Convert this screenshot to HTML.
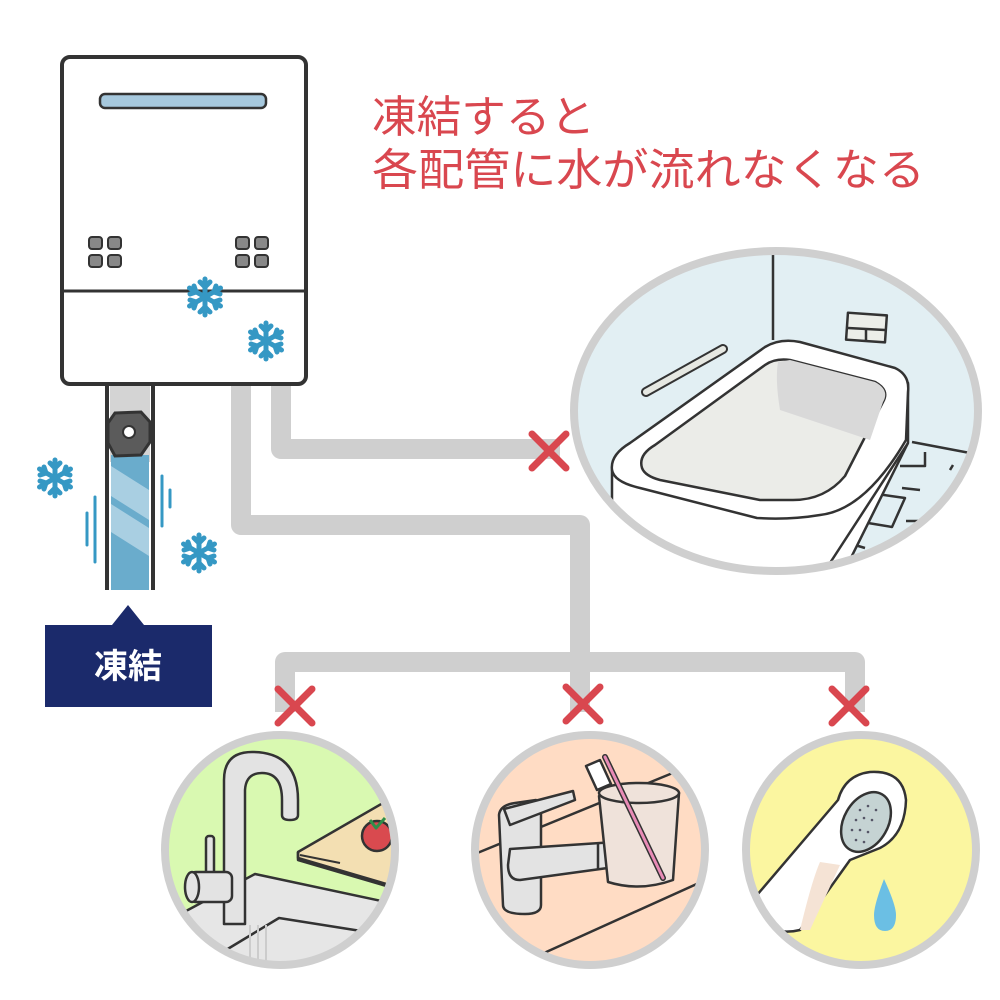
<!DOCTYPE html>
<html><head><meta charset="utf-8"><style>
html,body{margin:0;padding:0;background:#fff;}
svg{display:block;}
text{font-family:"Liberation Sans","Noto Sans CJK JP",sans-serif;}
</style></head><body>
<svg width="1000" height="1000" viewBox="0 0 1000 1000" xmlns="http://www.w3.org/2000/svg">
<defs>
<g id="snow" stroke="#3598c4" stroke-width="5" stroke-linecap="round" fill="none">
<line x1="0" y1="-18" x2="0" y2="18"/><line x1="-15.5" y1="-9" x2="15.5" y2="9"/><line x1="-15.5" y1="9" x2="15.5" y2="-9"/>
<path d="M-5 -15 L0 -10 L5 -15 M-5 15 L0 10 L5 15 M-15 -3 L-9 -5 L-11 -11 M15 3 L9 5 L11 11 M-15 3 L-9 5 L-11 11 M15 -3 L9 -5 L11 -11"/>
</g>
<g id="x" stroke="#d9474f" stroke-width="7" stroke-linecap="round"><line x1="-17" y1="-17" x2="17" y2="17"/><line x1="-17" y1="17" x2="17" y2="-17"/></g>
<clipPath id="c1"><ellipse cx="776" cy="411" rx="202" ry="160"/></clipPath>
<clipPath id="c2"><circle cx="280" cy="850" r="115"/></clipPath>
<clipPath id="c3"><circle cx="590" cy="850" r="115"/></clipPath>
<clipPath id="c4"><circle cx="861" cy="850" r="115"/></clipPath>
</defs>

<!-- gray pipes -->
<g stroke="#cfcfcf" stroke-width="20" fill="none" stroke-linejoin="round">
<path d="M281 385 V449 H560"/>
<path d="M241 385 V525 H580 V662"/>
<path d="M285 712 V662 H855 V712"/>
<path d="M580 662 V712"/>
</g>

<!-- bath ellipse -->
<ellipse cx="776" cy="411" rx="202" ry="160" fill="#e2eff3"/>
<g clip-path="url(#c1)" fill="none" stroke="#333" stroke-width="2.5" stroke-linejoin="round">
<line x1="773" y1="250" x2="773" y2="340"/>
<rect x="847" y="314" width="39" height="27" fill="#eceee9" transform="rotate(4 866 327)"/>
<line x1="848" y1="328" x2="885" y2="330"/><line x1="866" y1="328" x2="866" y2="342"/>
<line x1="646" y1="392" x2="723" y2="349" stroke="#333" stroke-width="10" stroke-linecap="round"/>
<line x1="646" y1="392" x2="723" y2="349" stroke="#e6e8e2" stroke-width="6" stroke-linecap="round"/>
<line x1="912" y1="442" x2="970" y2="453"/>
<path d="M900 466 L925 466 L925 452 M902 488 L920 490 M950 470 L953 465 M906 521 L920 521 M855 545 L865 548" />
<path d="M870 493 L905 498 L892 527 L862 522 Z" fill="none"/>
<path d="M612 470 L612 600 L830 600 L908 443 L908 383 Z" fill="#fff"/>
<path d="M612 470 Q610 455 630 443 L765 347 Q780 338 800 342 L895 368 Q910 375 908 392 L906 440 Q865 510 820 515 Q790 520 757 518 L640 488 Q614 482 612 470 Z" fill="#fff"/>
<path d="M908 443 L830 563"/>
<path d="M642 468 Q638 455 655 445 L765 365 Q775 358 790 360 L875 382 Q890 390 883 402 L845 476 Q825 500 793 500 L760 500 L660 480 Q645 476 642 468 Z" fill="#ebece8"/>
<path d="M778 362 Q775 380 780 410 L870 440 L883 402 Q890 390 875 382 L790 360 Z" fill="#d9d9d9" stroke="none"/>
</g>
<ellipse cx="776" cy="411" rx="202" ry="160" fill="none" stroke="#cfcfcf" stroke-width="8"/>

<!-- circle 1 kitchen -->
<circle cx="280" cy="850" r="115" fill="#d9f9b1"/>
<g clip-path="url(#c2)" stroke="#333" stroke-width="2.5" stroke-linejoin="round">
<path d="M160 925 L255 874 L400 905 L400 980 L160 980 Z" fill="#e6e6e6"/>
<path d="M226 950 L279 918 L361 931" fill="none"/>
<path d="M250 925 V980 M258 925 V980 M266 925 V980" stroke="#ccc" stroke-width="2"/>
<path d="M298 852 L383 803 L400 810 L400 888 L298 858 Z" fill="#f3dfb2"/>
<path d="M298 852 L298 860 L400 890" fill="none"/>
<line x1="300" y1="855" x2="340" y2="863" stroke-width="2"/>
<circle cx="377" cy="836" r="15" fill="#d94a4f"/>
<path d="M370 820 L376 828 L385 818" stroke="#2e8f4a" stroke-width="3" fill="none"/>
<path d="M224 924 V780 Q224 752 252 752 Q298 752 298 800 V815 Q298 820 290 820 Q282 820 282 815 V800 Q282 773 262 773 Q246 773 245 790 V924 Z" fill="#e3e3e3"/>
<rect x="206" y="836" width="8" height="38" rx="3" fill="#e3e3e3"/>
<rect x="190" y="872" width="42" height="30" rx="6" fill="#e3e3e3"/>
<ellipse cx="192" cy="887" rx="7" ry="15" fill="#e3e3e3"/>
</g>
<circle cx="280" cy="850" r="115" fill="none" stroke="#cfcfcf" stroke-width="8"/>

<!-- circle 2 washstand -->
<circle cx="590" cy="850" r="115" fill="#ffdcc4"/>
<g clip-path="url(#c3)" stroke="#333" stroke-width="2.5" stroke-linejoin="round">
<line x1="470" y1="856" x2="680" y2="770"/>
<line x1="544" y1="953" x2="710" y2="878"/>
<path d="M499 815 Q500 805 515 803 L536 800 Q541 805 541 815 V905 Q541 914 525 914 Q503 914 503 905 Z" fill="#e3e3e3"/>
<path d="M504 809 L573 791 L575 800 L510 825 Z" fill="#e3e3e3"/>
<path d="M510 849 L615 842 L615 867 L520 880 Q508 880 508 865 Z" fill="#e3e3e3"/>
<line x1="598" y1="843" x2="598" y2="870"/>
<path d="M599 796 Q640 782 679 793 L673 880 Q640 892 608 882 Z" fill="#efe2da"/>
<ellipse cx="639" cy="793" rx="40" ry="10" fill="#efe2da"/>
<line x1="605" y1="757" x2="663" y2="878" stroke="#333" stroke-width="6" stroke-linecap="round"/>
<line x1="605" y1="757" x2="663" y2="878" stroke="#e88bb6" stroke-width="3" stroke-linecap="round"/>
<path d="M586 766 L600 760 L611 784 L597 790 Z" fill="#fff"/>
</g>
<circle cx="590" cy="850" r="115" fill="none" stroke="#cfcfcf" stroke-width="8"/>

<!-- circle 3 shower -->
<circle cx="861" cy="850" r="115" fill="#fbf6a0"/>
<g clip-path="url(#c4)" stroke="#333" stroke-width="2.5" stroke-linejoin="round">
<path d="M740 915 L838 800 Q845 775 870 772 Q903 770 906 800 Q905 835 880 848 L850 860 L800 930 Q780 935 760 925 Z" fill="#fff"/>
<path d="M820 862 Q812 880 800 930 L810 930 L840 865 Z" fill="#f5e3d5" stroke="none"/>
<ellipse cx="866" cy="822" rx="22" ry="32" transform="rotate(30 866 822)" fill="#c5d3d3"/>
<g fill="#556" stroke="none">
<circle cx="860" cy="810" r="1.3"/><circle cx="868" cy="806" r="1.3"/><circle cx="876" cy="810" r="1.3"/>
<circle cx="856" cy="820" r="1.3"/><circle cx="864" cy="818" r="1.3"/><circle cx="872" cy="820" r="1.3"/>
<circle cx="852" cy="830" r="1.3"/><circle cx="860" cy="830" r="1.3"/><circle cx="868" cy="832" r="1.3"/>
<circle cx="856" cy="840" r="1.3"/><circle cx="864" cy="842" r="1.3"/>
</g>
<path d="M884 879 Q896 905 896 915 Q896 931 885 931 Q874 931 874 915 Q874 905 884 879 Z" fill="#6bbfe4" stroke="none"/>
</g>
<circle cx="861" cy="850" r="115" fill="none" stroke="#cfcfcf" stroke-width="8"/>

<!-- X marks -->
<use href="#x" x="549" y="451"/>
<use href="#x" x="295" y="706"/>
<use href="#x" x="583" y="704"/>
<use href="#x" x="849" y="706"/>

<!-- heater pipe -->
<rect x="108" y="382" width="44" height="208" fill="#fff"/>
<rect x="110" y="382" width="40" height="80" fill="#d4d4d4"/>
<rect x="111" y="455" width="38" height="135" fill="#6aaccc"/>
<path d="M111 466 L149 490 L149 520 L111 496 Z M111 504 L149 528 L149 556 L111 532 Z" fill="#a9cfe2"/>
<line x1="107" y1="384" x2="107" y2="590" stroke="#333" stroke-width="4"/>
<line x1="153" y1="384" x2="153" y2="590" stroke="#333" stroke-width="4"/>
<path d="M115 413 L141 412 L150 422 L150 442 L141 455 L115 456 L108 443 L108 423 Z" fill="#5b5b5b" stroke="#333" stroke-width="3"/>
<circle cx="129" cy="432" r="6" fill="#fff" stroke="#333" stroke-width="2"/>
<g stroke="#3598c4" stroke-width="3" stroke-linecap="round"><line x1="95" y1="497" x2="95" y2="562"/><line x1="87" y1="513" x2="87" y2="545"/><line x1="162" y1="476" x2="162" y2="526"/><line x1="170" y1="490" x2="170" y2="507"/></g>

<!-- heater -->
<rect x="62" y="57" width="244" height="327" rx="8" fill="#fff" stroke="#333" stroke-width="4"/>
<line x1="62" y1="291" x2="306" y2="291" stroke="#333" stroke-width="3"/>
<rect x="100" y="94" width="166" height="14" rx="5" fill="#a6c8dd" stroke="#333" stroke-width="2.5"/>
<g fill="#888" stroke="#333" stroke-width="2">
<rect x="89" y="237" width="13" height="12" rx="3"/><rect x="108" y="237" width="13" height="12" rx="3"/>
<rect x="89" y="255" width="13" height="12" rx="3"/><rect x="108" y="255" width="13" height="12" rx="3"/>
<rect x="236" y="237" width="13" height="12" rx="3"/><rect x="255" y="237" width="13" height="12" rx="3"/>
<rect x="236" y="255" width="13" height="12" rx="3"/><rect x="255" y="255" width="13" height="12" rx="3"/>
</g>
<use href="#snow" x="205" y="297"/>
<use href="#snow" x="266" y="341"/>
<use href="#snow" x="55" y="478"/>
<use href="#snow" x="199" y="553"/>

<!-- label -->
<path d="M45 625 H112 L128 605 L144 625 H212 V707 H45 Z" fill="#1b2a6b"/>
<text x="128" y="678" font-size="34" fill="#fff" text-anchor="middle" font-weight="bold">凍結</text>

<!-- red text -->
<text x="372" y="132" font-size="44" fill="#d9474f" textLength="223" lengthAdjust="spacingAndGlyphs">凍結すると</text>
<text x="372" y="185" font-size="44" fill="#d9474f" textLength="553" lengthAdjust="spacingAndGlyphs">各配管に水が流れなくなる</text>
</svg>
</body></html>
